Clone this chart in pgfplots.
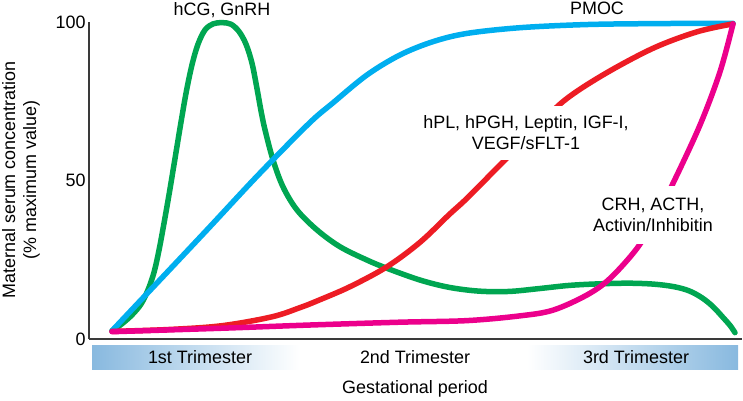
\documentclass[border=0pt]{standalone}
\usepackage{pgfplots}
\pgfplotsset{compat=1.18}
\usepackage{fontspec}
\setmainfont{Liberation Sans}
\definecolor{cgreen}{HTML}{00A651}
\definecolor{cblue}{HTML}{00AEEF}
\definecolor{cred}{HTML}{ED1C24}
\definecolor{cmag}{HTML}{EC008C}
\definecolor{tblue}{HTML}{88B9DF}
\definecolor{axisgray}{HTML}{3A3A3A}
\newcommand{\lbl}{\fontsize{18}{21}\selectfont}
\begin{document}
\begin{tikzpicture}
\path[use as bounding box] (-89bp,-62bp) rectangle (654bp,339bp);
\begin{axis}[
  at={(0,0)}, anchor=south west,
  scale only axis, width=653bp, height=317bp,
  xmin=0, xmax=653, ymin=0, ymax=100,
  axis lines=left,
  axis line style={draw=axisgray, line width=1.4bp, -},
  ytick={0,50,100}, xtick=\empty,
  major tick length=0pt,
  /pgf/number format/assume math mode=true,
  yticklabel style={font=\lbl, text=black},
  clip=false,
  every axis plot/.append style={line width=5.5bp, line cap=round, line join=round, smooth, tension=0.55},
]
\addplot[cgreen] coordinates {
 (23,2.6) (33,4.8) (43,7.6) (52,11.0) (59,15.5) (65,21.0) (70,28.0) (75,36.5)
 (80,45.5) (85,55.0) (91,66.5) (97,77.5) (103,86.5) (109,93.0) (116,97.5)
 (124,99.4) (133,99.8) (142,99.3) (150,97.0) (157,93.0) (163,87.0) (168,79.0)
 (172,72.0) (176,66.0) (184,56.5) (194,48.0) (208,40.7) (228,34.4) (251,29.1)
 (278,24.9) (298,22.3) (331,18.6) (360,16.3) (390,15.1) (420,15.0) (450,15.9)
 (480,16.9) (510,17.4) (540,17.6) (565,17.3) (585,16.5) (600,15.2) (613,13.0)
 (624,10.2) (634,6.8) (641,4.3) (646,2.0)};
\addplot[cblue] coordinates {
 (23,2.6) (72,19.0) (120,35.1) (170,52.0) (220,68.0) (244,74.5) (278,83.3)
 (311,89.6) (344,93.8) (378,96.4) (431,98.2) (498,99.2) (570,99.5) (644,99.6)};
\addplot[cred] coordinates {
 (23,2.4) (80,3.0) (133,4.2) (183,7.0) (211,9.9) (228,12.0) (261,16.5) (298,22.8)
 (331,30.5) (360,39.2) (378,44.4) (411,54.9) (443,65.0) (474,74.9) (514,83.3)
 (564,91.7) (608,96.9) (644,99.4)};
\addplot[cmag] coordinates {
 (23,2.3) (133,3.4) (220,4.4) (311,5.3) (378,5.8) (431,7.3) (464,9.1) (498,13.9)
 (521,19.1) (548,28.6) (566,38.0) (584,49.1) (611,67.5) (631,84.3) (644,99.4)};
\end{axis}
% labels over curves
\node[fill=white, inner xsep=4bp, inner ysep=10bp, align=center, font=\lbl] at (437bp,206bp)
  {hPL, hPGH, Leptin, IGF-I,\\VEGF/sFLT-1};
\node[fill=white, inner xsep=4bp, inner ysep=12bp, align=center, font=\lbl] at (564bp,124bp)
  {CRH, ACTH,\\Activin/Inhibitin};
\node[anchor=base, font=\lbl] at (133bp,323bp) {hCG, GnRH};
\node[anchor=base, font=\lbl] at (508bp,324bp) {PMOC};
% trimester bars
\shade[left color=tblue, right color=white] (3bp,-6bp) rectangle (211bp,-30bp);
\shade[left color=white, right color=tblue] (438bp,-6bp) rectangle (649bp,-30bp);
\node[font=\lbl] at (111bp,-18bp) {1st Trimester};
\node[font=\lbl] at (326bp,-18bp) {2nd Trimester};
\node[font=\lbl] at (547bp,-18bp) {3rd Trimester};
\node[font=\lbl] at (326bp,-50bp) {Gestational period};
\node[font=\lbl, rotate=90, align=center] at (-68bp,159bp)
  {Maternal serum concentration\\(\% maximum value)};
\end{tikzpicture}
\end{document}
